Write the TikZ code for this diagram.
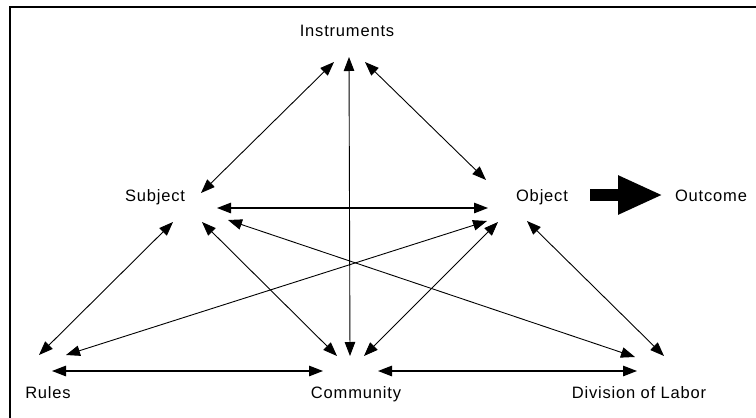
\documentclass[tikz,border=0pt]{standalone}
\usepackage{fontspec}
\setmainfont{Liberation Sans}[LetterSpace=5]
\usetikzlibrary{arrows.meta}
\tikzset{
  lbl/.style={anchor=base, inner sep=0pt, font=\fontsize{16.5}{19}\selectfont},
  link/.style={line width=0.9pt, {Triangle[length=14pt,width=10.5pt]}-{Triangle[length=14pt,width=10.5pt]}},
  hlink/.style={link, line width=1.3pt},
  frameline/.style={line width=2pt},
  bigarrow/.style={line width=12pt, -{Triangle[length=45pt,width=36pt]}}
}
\begin{document}
\begin{tikzpicture}[x=1pt,y=-1pt]
\useasboundingbox (0,0) rectangle (756,418);
% frame (top and left edges only)
\coordinate (fa) at (10,418);
\coordinate (fb) at (10,6.7);
\coordinate (fc) at (756,6.7);
\draw[frameline] (fa) -- (fb) -- (fc);
% labels
\node[lbl] (inst) at (347,36) {Instruments};
\node[lbl] (subj) at (155,201) {Subject};
\node[lbl] (obj)  at (542,201) {Object};
\node[lbl] (outc) at (711,201) {Outcome};
\node[lbl] (rules) at (48,398) {Rules};
\node[lbl] (comm) at (356,398) {Community};
\node[lbl] (div) at (639,398) {Division of Labor};
% endpoints
\coordinate (I1) at (334,62);
\coordinate (I2) at (349,57);
\coordinate (I3) at (365,62);
\coordinate (S1) at (201,193);
\coordinate (S2) at (217,208);
\coordinate (S3) at (173,222);
\coordinate (S4) at (202,222);
\coordinate (S5) at (228,220);
\coordinate (O1) at (486,180);
\coordinate (O2) at (488,208);
\coordinate (O3) at (487,221);
\coordinate (O4) at (498,222);
\coordinate (O5) at (527,221);
\coordinate (R1) at (39,355);
\coordinate (R2) at (66,355);
\coordinate (R3) at (52,371);
\coordinate (C1) at (337,356);
\coordinate (C2) at (350,356);
\coordinate (C3) at (364,356);
\coordinate (C4) at (323,371);
\coordinate (C5) at (378,371);
\coordinate (D1) at (635,357);
\coordinate (D2) at (664,356);
\coordinate (D3) at (637,371);
\coordinate (OA) at (590,195);
\coordinate (OB) at (663,195);
% connectors
\draw[link] (I1) -- (S1);
\draw[link] (I2) -- (C2);
\draw[link] (I3) -- (O1);
\draw[hlink] (S2) -- (O2);
\draw[link] (S3) -- (R1);
\draw[link] (S4) -- (C1);
\draw[link] (S5) -- (D1);
\draw[link] (O3) -- (R2);
\draw[link] (O4) -- (C3);
\draw[link] (O5) -- (D2);
\draw[hlink] (R3) -- (C4);
\draw[hlink] (C5) -- (D3);
\draw[bigarrow] (OA) -- (OB);
\end{tikzpicture}
\end{document}
